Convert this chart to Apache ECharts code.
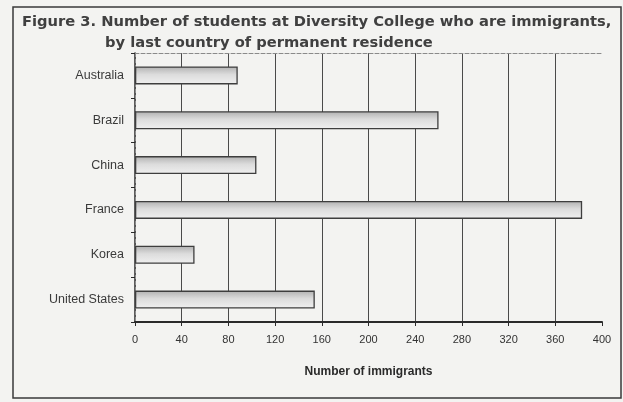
<!DOCTYPE html>
<html><head><meta charset="utf-8">
<script src="https://cdn.jsdelivr.net/npm/echarts@6/dist/echarts.min.js"></script>
<style>html,body{margin:0;padding:0;background:#f3f3f1;}#c{width:623px;height:402px;}</style>
</head><body><div id="c"></div>
<script>
const categories = ['Australia', 'Brazil', 'China', 'France', 'Korea', 'United States'];
const immigrants = [88, 260, 104, 383, 51, 154];
const xTicks = [0, 40, 80, 120, 160, 200, 240, 280, 320, 360, 400];
const titleLine1 = 'Figure 3. Number of students at Diversity College who are immigrants,';
const titleLine2 = 'by last country of permanent residence';
const xName = 'Number of immigrants';

const chart = echarts.init(document.getElementById('c'), null, {renderer: 'canvas'});
chart.setOption({
  backgroundColor: '#f3f3f1',
  animation: false,
  title: [
    {text: titleLine1, left: 22, top: 15, padding: 0, textStyle: {fontFamily: 'DejaVu Sans', fontSize: 14.7, fontWeight: 'bold', color: '#404040'}},
    {text: titleLine2, left: 105, top: 36, padding: 0, textStyle: {fontFamily: 'DejaVu Sans', fontSize: 14.7, fontWeight: 'bold', color: '#404040'}}
  ],
  graphic: [
    {type: 'rect', shape: {x: 13, y: 7, width: 608, height: 391}, style: {fill: 'none', stroke: '#3a3a3a', lineWidth: 1.5}, silent: true, z: -1}
  ],
  grid: {left: 135, right: 21, top: 53, bottom: 80},
  xAxis: [{
    type: 'value', min: 0, max: 400, interval: 40,
    name: xName, nameLocation: 'middle', nameGap: 44,
    nameTextStyle: {fontFamily: 'Liberation Sans', fontSize: 12, fontWeight: 'bold', color: '#2a2a2a'},
    axisLine: {show: true, lineStyle: {color: '#2a2a2a', width: 2}},
    axisTick: {show: true, length: 4, lineStyle: {color: '#2a2a2a'}},
    axisLabel: {margin: 12, fontFamily: 'Liberation Sans', fontSize: 11, color: '#333',
      formatter: v => xTicks.includes(v) ? String(v) : ''},
    splitLine: {show: true, showMaxLine: false, lineStyle: {color: '#4a4a4a', width: 1}}
  }, {
    type: 'value', min: 0, max: 400, position: 'top',
    axisLine: {show: true, lineStyle: {color: '#8a8a8a', width: 1, type: 'dashed'}},
    axisTick: {show: false}, axisLabel: {show: false}, splitLine: {show: false}
  }],
  yAxis: [{
    type: 'category', data: categories, inverse: true,
    axisLine: {show: true, lineStyle: {color: '#2a2a2a', width: 1.5}},
    axisTick: {show: true, length: 4, lineStyle: {color: '#2a2a2a'}},
    axisLabel: {margin: 11, fontFamily: 'Liberation Sans', fontSize: 12.5, color: '#3a3a3a'},
    splitLine: {show: false}
  }, {
    type: 'category', data: categories, inverse: true, position: 'right',
    axisLine: {show: true, lineStyle: {color: '#8a8a8a', width: 1, type: 'dashed'}},
    axisTick: {show: false}, axisLabel: {show: false}, splitLine: {show: false}
  }],
  series: [{
    type: 'bar', data: immigrants, barWidth: 18,
    itemStyle: {
      borderColor: '#3e3e3e', borderWidth: 1.3,
      color: new echarts.graphic.LinearGradient(0, 0, 0, 1, [
        {offset: 0, color: '#b0b0b0'},
        {offset: 0.45, color: '#dcdcdc'},
        {offset: 1, color: '#f0f0f0'}
      ])
    }
  }]
});
</script></body></html>
